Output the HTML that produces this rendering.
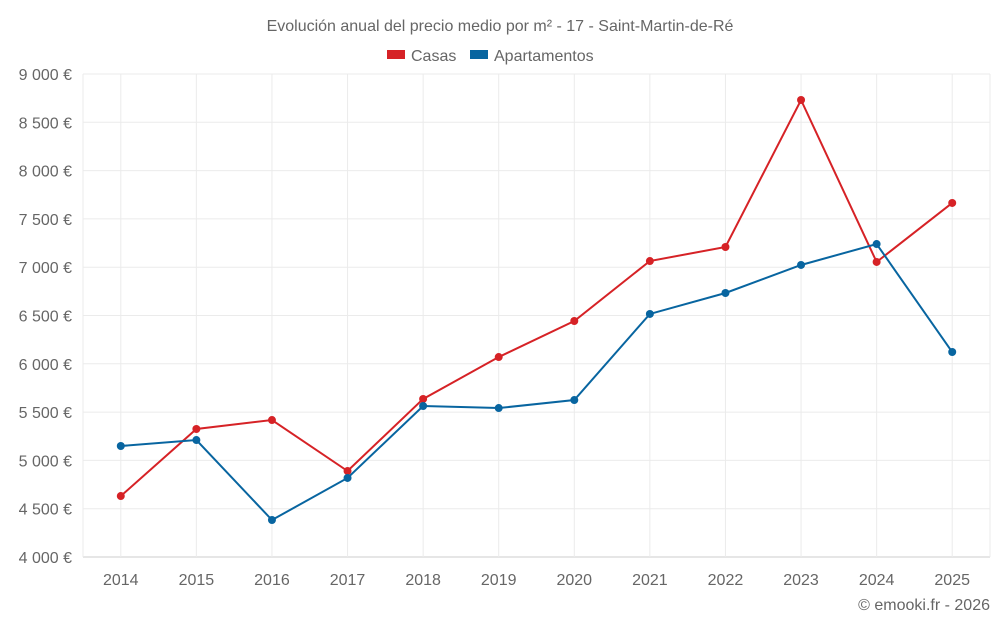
<!DOCTYPE html>
<html><head><meta charset="utf-8"><style>
body{margin:0;background:#fff;font-family:"Liberation Sans",sans-serif;}
svg text{font-family:"Liberation Sans",sans-serif;fill:#666;}
</style></head><body>
<svg id="chart" width="1000" height="625">
<text x="500" y="31" text-anchor="middle" font-size="16">Evolución anual del precio medio por m² - 17 - Saint-Martin-de-Ré</text>
<g>
<g><rect x="387" y="50" width="18" height="9" fill="#d62226"/><text x="411" y="61" font-size="16">Casas</text></g>
<g><rect x="470" y="50" width="18" height="9" fill="#0865a0"/><text x="494" y="61" font-size="16">Apartamentos</text></g>
</g>
<g id="grid"></g><g id="axes"></g><g id="series"></g>
<text x="990" y="610" text-anchor="end" font-size="16">© emooki.fr - 2026</text>
</svg>
<script>
const years=["2014","2015","2016","2017","2018","2019","2020","2021","2022","2023","2024","2025"];
const casas=[4631,5325,5418,4890,5636,6070,6443,7064,7209,8731,7054,7665];
const apartamentos=[5149,5211,4383,4818,5563,5542,5625,6516,6733,7023,7240,6122];
const yTicks=[4000,4500,5000,5500,6000,6500,7000,7500,8000,8500,9000];
const yTickLabels=["4 000 €","4 500 €","5 000 €","5 500 €","6 000 €","6 500 €","7 000 €","7 500 €","8 000 €","8 500 €","9 000 €"];
const L=83,R=990,T=74,B=557,yMin=4000,yMax=9000;
const bw=(R-L)/years.length;
const x=i=>L+bw*(i+0.5);
const y=v=>B-(v-yMin)/(yMax-yMin)*(B-T);
const NS="http://www.w3.org/2000/svg";
function mk(tag,attrs,parent){const e=document.createElementNS(NS,tag);for(const k in attrs)e.setAttribute(k,attrs[k]);parent.appendChild(e);return e;}
const grid=document.getElementById('grid'),axes=document.getElementById('axes'),series=document.getElementById('series');
yTicks.forEach((t,i)=>{
 const l=mk('line',{x1:L,x2:R,y1:y(t),y2:y(t),stroke:i===0?'#ccc':'#ebebeb','stroke-width':1},grid);
 
 
 const tx=mk('text',{x:72,y:y(t)+6,'text-anchor':'end','font-size':16},axes);
 tx.textContent=yTickLabels[i];
 
 
});
[L,R].forEach(px=>{
 const l=mk('line',{x1:px,x2:px,y1:T,y2:B,stroke:'#ebebeb','stroke-width':1},grid);
 
 
});
years.forEach((yr,i)=>{
 const l=mk('line',{x1:x(i),x2:x(i),y1:T,y2:B,stroke:'#ebebeb','stroke-width':1},grid);
 
 
 const tx=mk('text',{x:x(i),y:585,'text-anchor':'middle','font-size':16},axes);
 tx.textContent=yr;
 
 
});
function draw(vals,color,name){
 const p=mk('polyline',{points:vals.map((v,i)=>x(i)+','+y(v)).join(' '),fill:'none',stroke:color,'stroke-width':2},series);
 
 
 vals.forEach((v,i)=>{
  const c=mk('circle',{cx:x(i),cy:y(v),r:4,fill:color},series);
  
  
 });
}
draw(casas,'#d62226','casas');
draw(apartamentos,'#0865a0','apartamentos');
</script>
</body></html>
